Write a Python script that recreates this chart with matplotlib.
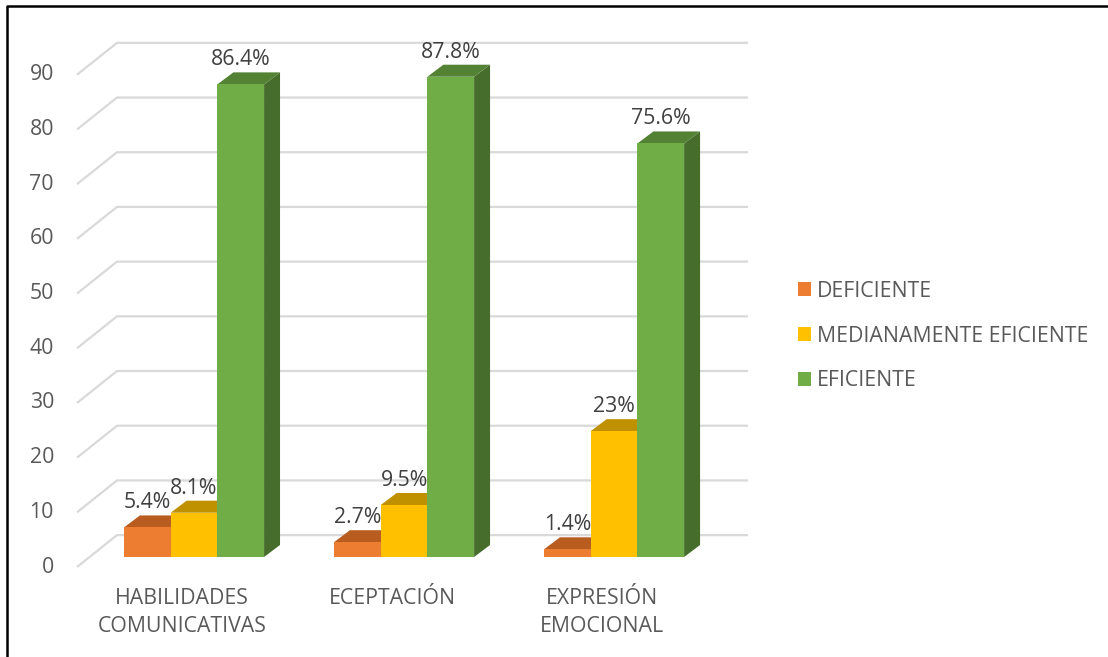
import matplotlib.pyplot as plt
from matplotlib.patches import Patch
from matplotlib.lines import Line2D

plt.rcParams['font.family'] = ['Open Sans', 'DejaVu Sans']

categories = ['HABILIDADES\nCOMUNICATIVAS', 'ECEPTACIÓN', 'EXPRESIÓN\nEMOCIONAL']
series = ['DEFICIENTE', 'MEDIANAMENTE EFICIENTE', 'EFICIENTE']
deficiente = [5.4, 2.7, 1.4]
medianamente = [8.1, 9.5, 23]
eficiente = [86.4, 87.8, 75.6]
labels = [['5.4%', '2.7%', '1.4%'], ['8.1%', '9.5%', '23%'], ['86.4%', '87.8%', '75.6%']]
yticks = [0, 10, 20, 30, 40, 50, 60, 70, 80, 90]

front = ['#ED7D31', '#FFC000', '#70AD47']
top = ['#B85C20', '#BF9000', '#548235']
side = ['#A34F1B', '#A67C00', '#466D2C']
txt = '#595959'
grid = '#D9D9D9'
fs = 15.3

# geometry (category units x, value units y)
w = 0.2224
ddx, ddy = 0.076, 2.2
wall = 4.0
fx0 = -1.83

fig = plt.figure(figsize=(11.08, 6.57), dpi=100)
ax = fig.add_axes([0, 0, 1, 1])
ax.set_xlim(-0.9238, 4.352)
ax.set_ylim(-18.28, 101.83)
ax.axis('off')

# gridlines with oblique side
for v in yticks:
    ax.plot([-0.557, -0.3667, 2.638], [v + fx0, v + wall, v + wall],
            color=grid, lw=1.6, zorder=1, solid_capstyle='butt')
    ax.text(-0.6667, v + fx0, str(v), ha='right', va='center',
            fontsize=fs, color=txt)

data = [deficiente, medianamente, eficiente]
for g in range(len(categories)):
    for s in range(3):
        v = data[s][g]
        x0 = g - 1.5 * w + s * w
        z = 3 + s
        ax.fill([x0 + w, x0 + w + ddx, x0 + w + ddx, x0 + w],
                [0, ddy, v + ddy, v], color=side[s], lw=0, zorder=z)
        ax.fill([x0, x0 + w, x0 + w + ddx, x0 + ddx],
                [v, v, v + ddy, v + ddy], color=top[s], lw=0, zorder=z)
        ax.bar(x0, v, width=w, align='edge', color=front[s], lw=0, zorder=z)
        ax.text(x0 + w / 2, v + ddy + 1.3, labels[s][g], ha='center',
                va='baseline', fontsize=fs, color='#404040', zorder=10)

for g, c in enumerate(categories):
    ax.text(g - 0.057, -5.6, c, ha='center', va='top', fontsize=fs,
            color=txt, linespacing=1.45)

handles = [Patch(facecolor=front[i], edgecolor='none') for i in range(3)]
fig.legend(handles, series, loc='center left',
           bbox_to_anchor=(787 / 1108, 1 - 336 / 657), frameon=False,
           fontsize=fs, labelcolor=txt, handlelength=0.62, handleheight=0.62,
           handletextpad=0.3, labelspacing=1.12, borderpad=0)

# outer frame (top and left edges visible)
fig.add_artist(Line2D([7 / 1108, 7 / 1108, 1.0], [0, 1 - 6 / 657, 1 - 6 / 657],
                      transform=fig.transFigure, color='black', lw=1.8))

fig.savefig('out.png', dpi=100)
